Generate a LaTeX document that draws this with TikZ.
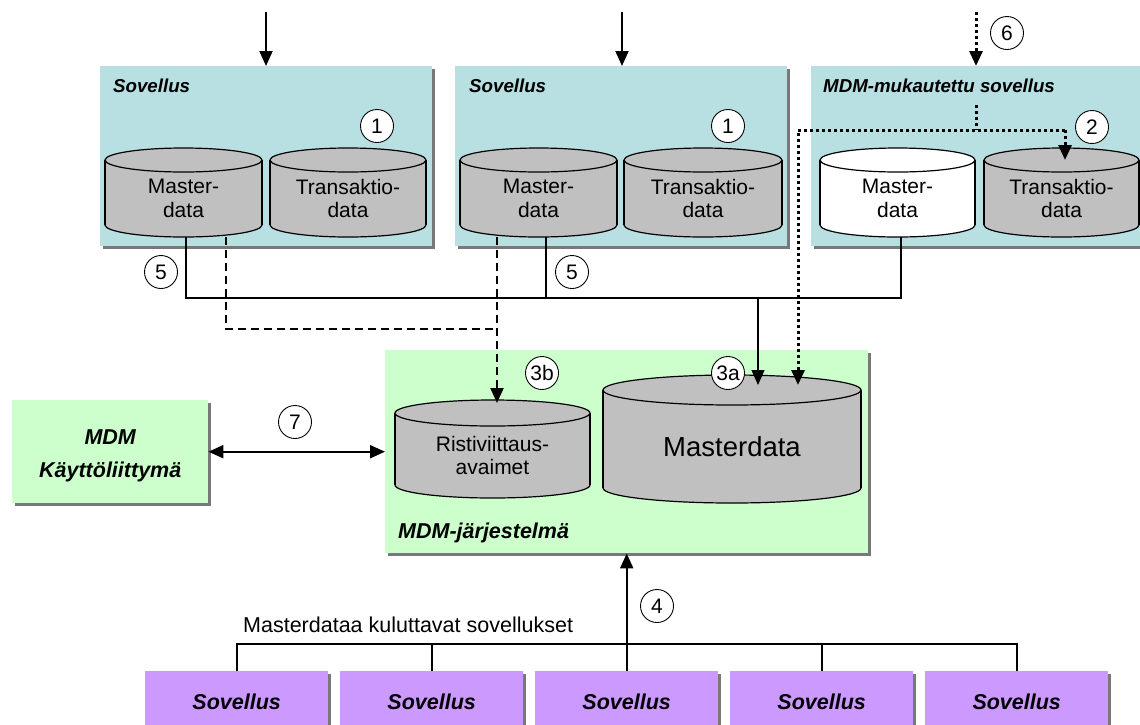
\documentclass[tikz,border=0pt]{standalone}
\usepackage{fontspec}
\setmainfont{Liberation Sans}
\usetikzlibrary{arrows.meta,shadows,calc}

\definecolor{appteal}{RGB}{184,223,226}
\definecolor{mdmgreen}{RGB}{204,255,204}
\definecolor{consumer}{RGB}{204,153,255}
\definecolor{dbgray}{RGB}{192,192,192}
\definecolor{shade}{RGB}{120,120,120}

\tikzset{
  panel/.style={draw=none, anchor=north west, inner sep=0pt,
    drop shadow={shadow xshift=3pt, shadow yshift=-3pt, fill=shade, opacity=1}},
  paneltitle/.style={anchor=west, inner sep=0pt,
    font=\fontsize{18.7}{21}\selectfont\bfseries\itshape},
  bigtitle/.style={inner sep=0pt, align=center,
    font=\fontsize{21.5}{33}\selectfont\bfseries\itshape},
  dbtext/.style={inner sep=0pt, align=center, font=\fontsize{21}{23.5}\selectfont},
  dbframe/.style={inner sep=0pt, draw=none},
  num/.style={circle, draw, line width=0.9pt, fill=white, minimum size=33pt,
    inner sep=0pt, font=\fontsize{21}{21}\selectfont},
  plain/.style={inner sep=0pt, font=\fontsize{21.5}{24}\selectfont},
  flow/.style={line width=2pt},
  feed/.style={line width=1.3pt},
  xref/.style={line width=2pt, dash pattern=on 8pt off 5pt},
  notify/.style={line width=3pt, dash pattern=on 3pt off 3pt},
  tip/.style={-{Triangle[length=15pt,width=13pt]}},
  tips/.style={{Triangle[length=15pt,width=13pt]}-{Triangle[length=15pt,width=13pt]}},
}

% database cylinder: name, x1, x2, ytop, ybottom, ellipse radius, fill, label
\newcommand\dbcyl[8]{%
  \pgfmathsetmacro\cylcx{(#2+#3)/2}%
  \pgfmathsetmacro\cylrx{(#3-#2)/2}%
  \filldraw[fill=#7, line width=1.2pt] (\cylcx,#5-#6) ellipse [x radius=\cylrx, y radius=#6];
  \fill[#7] (#2,#4+#6) rectangle (#3,#5-#6);
  \draw[line width=1.2pt] (#2,#4+#6) -- (#2,#5-#6) (#3,#4+#6) -- (#3,#5-#6);
  \filldraw[fill=#7, line width=1.2pt] (\cylcx,#4+#6) ellipse [x radius=\cylrx, y radius=#6];
  \node[dbframe, minimum width={(#3-#2)*1pt}, minimum height={(#5-#4)*1pt}]
    (#1) at (\cylcx,{(#4+#5)/2}) {};
  \node[dbtext] (#1-label) at (\cylcx,{(#4+#5)/2+#6/2}) {#8};
}

\begin{document}
\begin{tikzpicture}[x=1pt,y=-1pt]
\useasboundingbox (0,0) rectangle (1140,724);
\clip (0,0) rectangle (1140,724);

% source applications
\node[panel, fill=appteal, minimum width=332pt, minimum height=180pt] (app1) at (100,66) {};
\node[panel, fill=appteal, minimum width=332pt, minimum height=180pt] (app2) at (455,66) {};
\node[panel, fill=appteal, minimum width=332pt, minimum height=180pt] (app3) at (811,66) {};
\node[paneltitle] (app1-title) at (113,86) {Sovellus};
\node[paneltitle] (app2-title) at (469,86) {Sovellus};
\node[paneltitle] (app3-title) at (823,86) {MDM-mukautettu sovellus};

\dbcyl{m1}{105}{262}{148}{237}{12}{dbgray}{Master-\\data}
\dbcyl{t1}{270}{426}{148}{237}{12}{dbgray}{Transaktio-\\data}
\dbcyl{m2}{460}{617}{148}{237}{12}{dbgray}{Master-\\data}
\dbcyl{t2}{624}{782}{148}{237}{12}{dbgray}{Transaktio-\\data}
\dbcyl{m3}{820}{975}{148}{237}{12}{white}{Master-\\data}
\dbcyl{t3}{984}{1139}{148}{237}{12}{dbgray}{Transaktio-\\data}

% MDM system
\node[panel, fill=mdmgreen, minimum width=483pt, minimum height=203pt] (mdm) at (385,350) {};
\node[paneltitle, font=\fontsize{21.5}{24}\selectfont\bfseries\itshape] (mdm-title) at (398,533) {MDM-järjestelmä};
\dbcyl{xr}{395}{590}{400}{498}{13}{dbgray}{Ristiviittaus-\\avaimet}
\dbcyl{md}{603}{861}{375}{503}{15}{dbgray}{\fontsize{27.5}{30}\selectfont Masterdata}

% user interface
\node[panel, fill=mdmgreen, minimum width=196pt, minimum height=103pt] (ui) at (12,400) {};
\node[bigtitle] (ui-label) at ($(ui.center)+(0,4)$) {MDM\\Käyttöliittymä};

% consuming applications
\foreach \i in {0,...,4}{
  \node[panel, fill=consumer, minimum width=183pt, minimum height=62pt] (c\i) at ({145+195*\i},671) {};
  \node[plain, font=\fontsize{21.5}{24}\selectfont\bfseries\itshape] (c\i-label) at ($(c\i.north)+(0,31)$) {Sovellus};
}
\node[plain, anchor=base west] (consumers) at (243,632) {Masterdataa kuluttavat sovellukset};

% incoming feeds
\coordinate (in1) at (266,12);
\coordinate (in2) at (622,12);
\coordinate (in3) at (976,12);
\draw[flow, tip] (in1) -- (in1 |- app1.north);
\draw[flow, tip] (in2) -- (in2 |- app2.north);
\draw[notify, tip] (in3) -- (in3 |- app3.north);

% master data flow to the hub
\coordinate (busY) at (0,298);
\coordinate (m1out) at ([xshift=2.5pt]m1.south);
\coordinate (m2out) at ([xshift=7.5pt]m2.south);
\coordinate (m3out) at ([xshift=3.5pt]m3.south);
\coordinate (mdin) at (758,385);
\draw[flow] (m1out) |- (m3out |- busY) -- (m3out);
\draw[flow] (m2out) -- (m2out |- busY);
\draw[feed, tip] (mdin |- busY) -- (mdin);

% cross-reference keys
\coordinate (xrY) at (0,329);
\coordinate (m1x) at ([xshift=42.5pt]m1.south);
\coordinate (m2x) at ([xshift=-41.5pt]m2.south);
\coordinate (xrin) at (497,403);
\draw[xref] (m1x) |- (m2x |- xrY);
\draw[xref, tip] (m2x) -- (xrin);

% notifications inside the adapted application
\coordinate (nY) at (0,130);
\coordinate (nsrc) at (976,105);
\coordinate (nleft) at (798,130);
\coordinate (tin) at (1065,160);
\coordinate (mdnote) at (798,385);
\draw[notify] (nsrc) -- (nsrc |- nY);
\draw[notify, tip] (tin |- nY) -- (tin);
\draw[notify, tip] (tin |- nY) -- (nleft) -- (mdnote);

% user interface link
\draw[flow, tips] (ui.east) -- (ui.east -| mdm.west);

% consumers bus
\coordinate (cY) at (0,644);
\draw[flow] (c0.north) |- (c4.north |- cY) -- (c4.north);
\draw[flow] (c1.north) -- (c1.north |- cY);
\draw[flow] (c3.north) -- (c3.north |- cY);
\draw[flow, tip] (c2.north) -- (c2.north |- mdm.south);

% step numbers
\node[num] (n1a) at (377,126) {1};
\node[num] (n1b) at (728,126) {1};
\node[num] (n2) at (1092,127) {2};
\node[num] (n6) at (1007,33) {6};
\node[num] (n5a) at (161,272) {5};
\node[num] (n5b) at (572,272) {5};
\node[num] (n3b) at (542,373) {3b};
\node[num] (n3a) at (728,373) {3a};
\node[num] (n7) at (295,422) {7};
\node[num] (n4) at (657,606) {4};
\end{tikzpicture}
\end{document}
